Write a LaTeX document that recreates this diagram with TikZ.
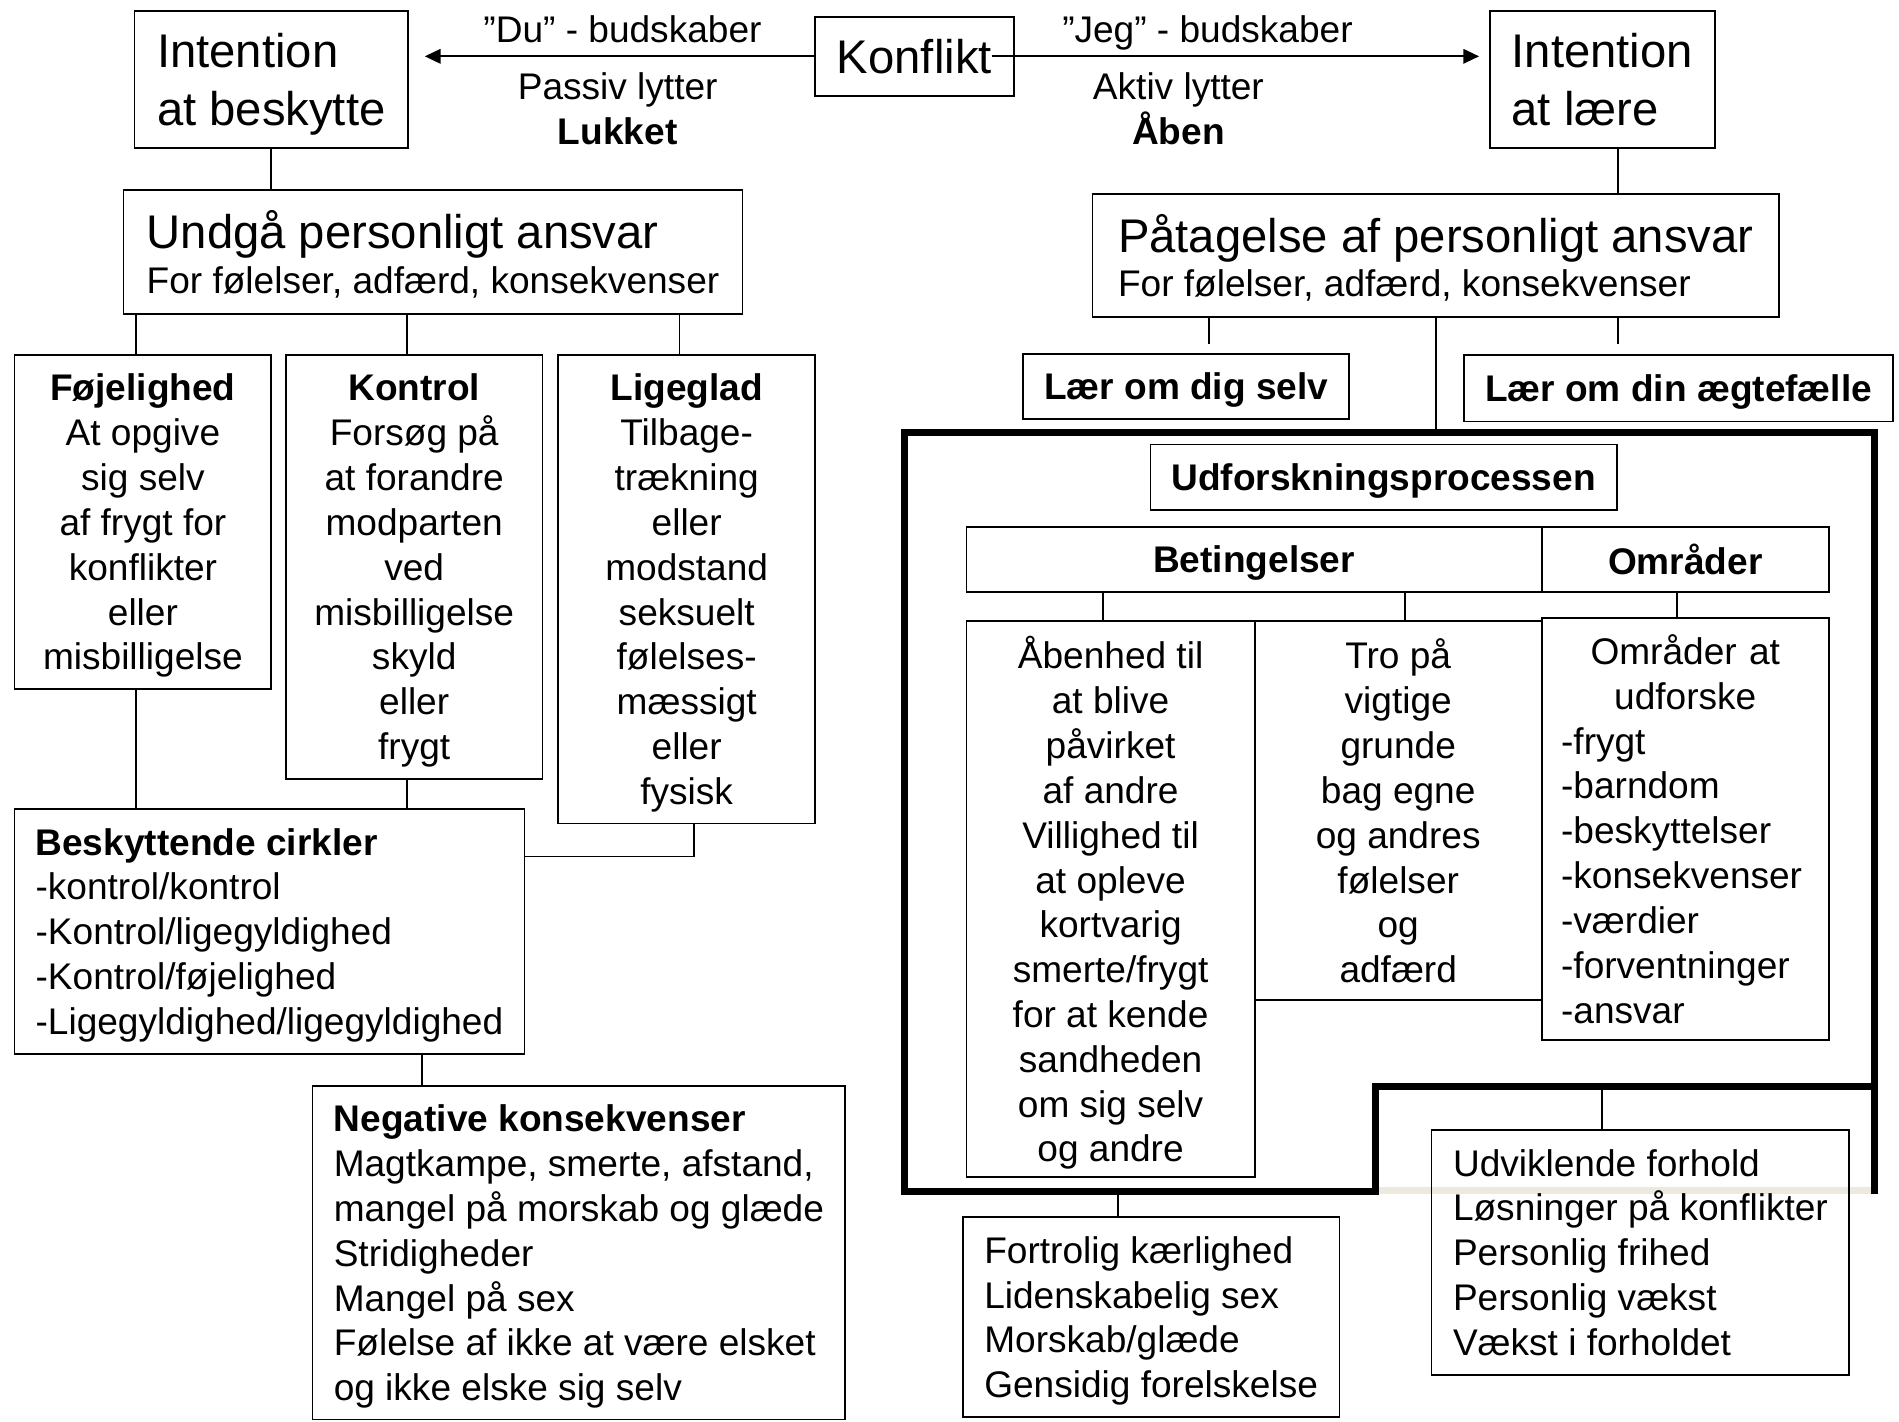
\documentclass[tikz,border=0pt]{standalone}
\usepackage{fontspec}
\setmainfont{Liberation Sans}
\usetikzlibrary{arrows.meta}
\newcommand\diagbig{\fontsize{19.5pt}{24pt}\selectfont}
\newcommand\diagsmall{\fontsize{15.3pt}{18.5pt}\selectfont}
\definecolor{scanline}{RGB}{236,233,222}
\tikzset{every picture/.style={line width=0.75pt},
    plainbox/.style={draw, inner sep=0pt, text depth=0pt, align=center, font=\diagsmall},
    textbox/.style={draw, inner sep=0pt, text depth=0pt, align=left, font=\diagsmall},
    msgtext/.style={inner sep=0pt, text height=11pt, text depth=0pt, font=\diagsmall},
    framewall/.style={line width=3pt},
    sendarrow/.style={-{Triangle[length=6.5pt,width=6pt]}}}

\begin{document}
\begin{tikzpicture}[x=0.5pt, y=-0.5pt]
    \useasboundingbox (0, 0) rectangle (1568, 1174);
    \draw[scanline, line width=3pt] (1136, 983) -- (1548, 983);
    \node[textbox, font=\diagbig, minimum width=113pt, minimum height=56.5pt](beskyt) at (224, 65.5){Intention\\at beskytte};
    \node[plainbox, font=\diagbig, minimum width=82pt, minimum height=32.5pt](konflikt) at (755, 46.5){Konflikt};
    \node[textbox, font=\diagbig, minimum width=93pt, minimum height=56.5pt](laere) at (1323, 65.5){Intention\\at lære};
    \node[msgtext](du) at (514, 24){”Du” - budskaber};
    \node[msgtext](passiv) at (510, 71){Passiv lytter};
    \node[msgtext, font=\diagsmall\bfseries](lukket) at (510, 108){Lukket};
    \node[msgtext](jeg) at (997, 24){”Jeg” - budskaber};
    \node[msgtext](aktiv) at (973, 71){Aktiv lytter};
    \node[msgtext, font=\diagsmall\bfseries](aaben) at (973, 108){Åben};
    \draw[sendarrow, shorten >=6.5pt] (konflikt.west) -- (konflikt.west -| beskyt.east);
    \draw[sendarrow, shorten <=-9.5pt, shorten >=4pt] (konflikt.east) -- (konflikt.east -| laere.west);

    \node[textbox, minimum width=255.5pt, minimum height=51pt](undga) at (357.5, 208){{\diagbig Undgå personligt ansvar}\\For følelser, adfærd, konsekvenser};
    \node[textbox, minimum width=283.5pt, minimum height=51pt](patag) at (1185.5, 211){{\diagbig Påtagelse af personligt ansvar}\\For følelser, adfærd, konsekvenser};
    \draw (beskyt.south) -- (beskyt.south |- undga.north);
    \coordinate (c1) at ([xshift=6.5pt]laere.south);
    \draw (c1) -- (c1 |- patag.north);

    \node[plainbox, minimum width=106pt, minimum height=138pt](fojel) at (118, 431){\textbf{Føjelighed}\\At opgive\\sig selv\\af frygt for\\konflikter\\eller\\misbilligelse};
    \node[plainbox, minimum width=106pt, minimum height=175pt](kontr) at (342, 468){\textbf{Kontrol}\\Forsøg på\\at forandre\\modparten\\ved\\misbilligelse\\skyld\\eller\\frygt};
    \node[plainbox, minimum width=106pt, minimum height=193.5pt](ligeg) at (567, 486.5){\textbf{Ligeglad}\\Tilbage-\\trækning\\eller\\modstand\\seksuelt\\følelses-\\mæssigt\\eller\\fysisk};
    \coordinate (u1) at ([xshift=-3pt]fojel.north);
    \coordinate (u2) at ([xshift=-3pt]kontr.north);
    \coordinate (u3) at ([xshift=-3pt]ligeg.north);
    \draw (u1 |- undga.south) -- (u1);
    \draw (u2 |- undga.south) -- (u2);
    \draw (u3 |- undga.south) -- (u3);

    \node[textbox, minimum width=210.5pt, minimum height=101pt](besk) at (222.5, 769){\textbf{Beskyttende cirkler}\\-kontrol/kontrol\\-Kontrol/ligegyldighed\\-Kontrol/føjelighed\\-Ligegyldighed/ligegyldighed};
    \node[textbox, minimum width=220pt, minimum height=137.5pt](negat) at (478, 1034.5){\textbf{Negative konsekvenser}\\Magtkampe, smerte, afstand,\\mangel på morskab og glæde\\Stridigheder\\Mangel på sex\\Følelse af ikke at være elsket\\og ikke elske sig selv};
    \coordinate (b1) at ([xshift=-3pt]fojel.south);
    \coordinate (b2) at ([xshift=-3pt]kontr.south);
    \coordinate (b3) at ([xshift=3pt]ligeg.south);
    \coordinate (n1) at ([xshift=63pt]besk.south);
    \draw (b1) -- (b1 |- besk.north);
    \draw (b2) -- (b2 |- besk.north);
    \draw (b3) |- ([yshift=-20pt]besk.north east);
    \draw (n1) -- (n1 |- negat.north);

    \node[plainbox, font=\diagsmall\bfseries, minimum width=134.5pt, minimum height=27pt](laerdig) at (979.5, 319){Lær om dig selv};
    \node[plainbox, font=\diagsmall\bfseries, minimum width=177pt, minimum height=27.5pt](laeraegte) at (1386, 320.5){Lær om din ægtefælle};
    \coordinate (s1) at (998, 284);
    \coordinate (s2) at (1336, 284);
    \coordinate (ftop) at (1185.5, 357);
    \draw (s1 |- patag.south) -- (s1);
    \draw (s2 |- patag.south) -- (s2);
    \draw (patag.south) -- (ftop);

    \node[plainbox, font=\diagsmall\bfseries, minimum width=192.5pt, minimum height=27pt](udfor) at (1142.5, 394){Udforskningsprocessen};
    \node[plainbox, font=\diagsmall\bfseries, minimum width=237.5pt, minimum height=27pt](beting) at (1035.5, 462){Betingelser};
    \node[plainbox, font=\diagsmall\bfseries, minimum width=118.5pt, minimum height=27pt](omraad) at (1391.5, 462){Områder};
    \node[plainbox, minimum width=119pt, minimum height=229.5pt](aabenh) at (917, 742.5){Åbenhed til\\at blive\\påvirket\\af andre\\Villighed til\\at opleve\\kortvarig\\smerte/frygt\\for at kende\\sandheden\\om sig selv\\og andre};
    \node[plainbox, minimum width=118.5pt, minimum height=156.5pt](tropaa) at (1154.5, 669.5){Tro på\\vigtige\\grunde\\bag egne\\og andres\\følelser\\og\\adfærd};
    \node[textbox, text depth=, text width=102.5pt, inner xsep=8pt, minimum height=174.5pt](omrlist) at (1391.5, 684.5){\makebox[\hsize]{Områder at}\\\makebox[\hsize]{udforske}\\-frygt\\-barndom\\-beskyttelser\\-konsekvenser\\-værdier\\-forventninger\\-ansvar};
    \coordinate (t1) at ([xshift=-3pt]aabenh.north);
    \coordinate (t2) at ([xshift=2.75pt]tropaa.north);
    \coordinate (t3) at ([xshift=-3.25pt]omrlist.north);
    \draw (t1 |- beting.south) -- (t1);
    \draw (t2 |- beting.south) -- (t2);
    \draw (t3 |- omraad.south) -- (t3);

    \draw[framewall] (1548, 986) -- (1548, 357) -- (747, 357) -- (747, 984) -- (1136, 984) -- (1136, 897) -- (1548, 897);
    \coordinate (fbot) at (923, 984);
    \coordinate (fstep) at (1323, 897);

    \node[textbox, minimum width=155.5pt, minimum height=82.5pt](fortr) at (950.5, 1087.5){Fortrolig kærlighed\\Lidenskabelig sex\\Morskab/glæde\\Gensidig forelskelse};
    \node[textbox, minimum width=172.5pt, minimum height=101pt](udvik) at (1354.5, 1034){Udviklende forhold\\Løsninger på konflikter\\Personlig frihed\\Personlig vækst\\Vækst i forholdet};
    \draw (fbot) -- (fbot |- fortr.north);
    \draw (fstep) -- (fstep |- udvik.north);
\end{tikzpicture}
\end{document}
